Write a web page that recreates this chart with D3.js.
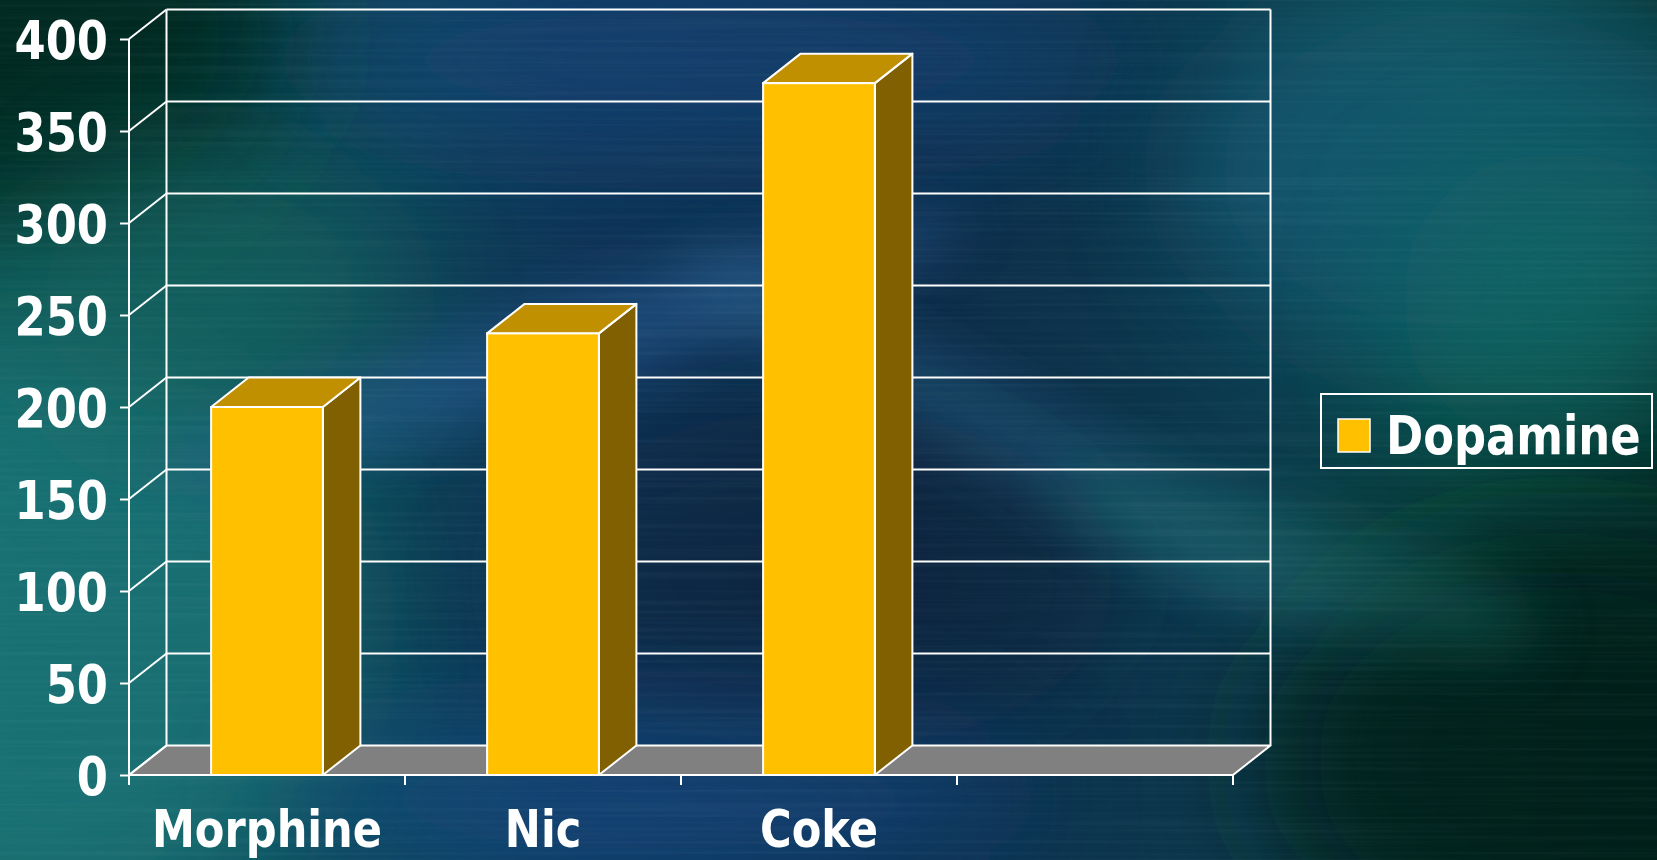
<!DOCTYPE html>
<html>
<head>
<meta charset="utf-8">
<script src="https://cdn.jsdelivr.net/npm/d3@7"></script>
<style>
  html, body { margin: 0; padding: 0; background: #0c2c44; overflow: hidden; }
  svg { display: block; }
  text { font-family: "DejaVu Sans Condensed", "DejaVu Sans", sans-serif; font-stretch: condensed; font-weight: bold; fill: #ffffff; }
</style>
</head>
<body>
<svg id="chart" width="1657" height="860"></svg>
<script>
// ---- data ----
const categories = ["Morphine", "Nic", "Coke", ""];
const seriesName = "Dopamine";
const dopamine = [200, 240, 376, null];
const yTicks = [0, 50, 100, 150, 200, 250, 300, 350, 400];

// ---- layout ----
const W = 1657, H = 860;
const svg = d3.select("#chart");
const DX = 37.5, DY = -29.5;           // 3D depth offset
const x = d3.scaleBand().domain(categories).range([129, 1233]).padding(0);
const y = d3.scaleLinear().domain([0, 400]).range([775, 39]);
const barW = x.bandwidth() * 0.405;
const FS = 53, SX = 0.94;              // font size and horizontal squeeze

// ---- background ----
const defs = svg.append("defs");
const lg = defs.append("linearGradient").attr("id", "bgBase").attr("x1", 0).attr("x2", 1).attr("y1", 0).attr("y2", 0);
[["0%", "#0f5d5e"], ["18%", "#0d4a57"], ["35%", "#0e3356"], ["55%", "#0d2c4a"], ["75%", "#0c3a4e"], ["88%", "#0a4642"], ["100%", "#05302b"]]
  .forEach(([o, c]) => lg.append("stop").attr("offset", o).attr("stop-color", c));
defs.append("filter").attr("id", "blur60").attr("x", "-50%").attr("y", "-50%").attr("width", "200%").attr("height", "200%")
  .append("feGaussianBlur").attr("stdDeviation", 60);
defs.append("filter").attr("id", "blur30").attr("x", "-50%").attr("y", "-50%").attr("width", "200%").attr("height", "200%")
  .append("feGaussianBlur").attr("stdDeviation", 30);
const streak = defs.append("filter").attr("id", "streaks").attr("x", 0).attr("y", 0).attr("width", "100%").attr("height", "100%");
streak.append("feTurbulence").attr("type", "fractalNoise").attr("baseFrequency", "0.002 0.25").attr("numOctaves", 2).attr("seed", 3).attr("result", "n");
streak.append("feColorMatrix").attr("type", "matrix")
  .attr("values", "0 0 0 0 0.6  0 0 0 0 0.85  0 0 0 0 0.9  0 0 0 1.2 -0.5");

const bg = svg.append("g").attr("class", "background");
bg.append("rect").attr("width", W).attr("height", H).attr("fill", "url(#bgBase)");
const blobs = [
  { cx: 40, cy: 40, rx: 260, ry: 200, rot: 0, c: "#05261f", o: 0.9, f: "blur60" },
  { cx: 60, cy: 640, rx: 280, ry: 300, rot: 0, c: "#1a7678", o: 0.8, f: "blur60" },
  { cx: 200, cy: 300, rx: 200, ry: 160, rot: 0, c: "#136660", o: 0.6, f: "blur60" },
  { cx: 700, cy: 60, rx: 420, ry: 90, rot: 0, c: "#17467a", o: 0.7, f: "blur60" },
  { cx: 560, cy: 350, rx: 420, ry: 45, rot: -18, c: "#2a5f98", o: 0.55, f: "blur30" },
  { cx: 1050, cy: 460, rx: 420, ry: 40, rot: 28, c: "#2f6f96", o: 0.45, f: "blur30" },
  { cx: 820, cy: 580, rx: 300, ry: 170, rot: 0, c: "#081d33", o: 0.4, f: "blur60" },
  { cx: 650, cy: 800, rx: 380, ry: 90, rot: 0, c: "#17508a", o: 0.6, f: "blur60" },
  { cx: 1480, cy: 170, rx: 300, ry: 200, rot: 0, c: "#13607a", o: 0.7, f: "blur60" },
  { cx: 1560, cy: 300, rx: 160, ry: 150, rot: 0, c: "#0b6b62", o: 0.6, f: "blur60" },
  { cx: 1560, cy: 760, rx: 300, ry: 230, rot: 0, c: "#021a15", o: 0.85, f: "blur60" },
  { cx: 1300, cy: 560, rx: 250, ry: 50, rot: 18, c: "#13625e", o: 0.5, f: "blur30" }
];
bg.selectAll("ellipse").data(blobs).join("ellipse")
  .attr("cx", d => d.cx).attr("cy", d => d.cy).attr("rx", d => d.rx).attr("ry", d => d.ry)
  .attr("transform", d => `rotate(${d.rot},${d.cx},${d.cy})`)
  .attr("fill", d => d.c).attr("opacity", d => d.o).attr("filter", d => `url(#${d.f})`);
bg.append("rect").attr("width", W).attr("height", H).attr("filter", "url(#streaks)").attr("opacity", 0.08);

// ---- 3D frame ----
const g = svg.append("g");
const stroke = "#ffffff";
const yBack = v => y(v) + DY;
const x0 = x.range()[0], x1 = x.range()[1];

// floor
g.append("polygon")
  .attr("points", [[x0, y(0)], [x1, y(0)], [x1 + DX, yBack(0)], [x0 + DX, yBack(0)]].map(p => p.join(",")).join(" "))
  .attr("fill", "#808080").attr("stroke", stroke).attr("stroke-width", 2).attr("stroke-linejoin", "round");

// back wall gridlines (including top edge)
g.selectAll("line.grid").data(yTicks.filter(v => v > 0)).join("line").attr("class", "grid")
  .attr("x1", x0 + DX).attr("x2", x1 + DX).attr("y1", d => yBack(d)).attr("y2", d => yBack(d))
  .attr("stroke", stroke).attr("stroke-width", 2);
// back wall verticals
[x0 + DX, x1 + DX].forEach(xx => g.append("line")
  .attr("x1", xx).attr("x2", xx).attr("y1", yBack(400)).attr("y2", yBack(0))
  .attr("stroke", stroke).attr("stroke-width", 2));
// side wall diagonals
g.selectAll("line.diag").data(yTicks).join("line").attr("class", "diag")
  .attr("x1", x0).attr("y1", d => y(d)).attr("x2", x0 + DX).attr("y2", d => yBack(d))
  .attr("stroke", stroke).attr("stroke-width", 2);

// y axis
const yAxis = d3.axisLeft(y).tickValues(yTicks).tickSize(9).tickPadding(12).tickFormat(d3.format("d"));
const ya = g.append("g").attr("transform", `translate(${x0},0)`).call(yAxis);
ya.select(".domain").attr("stroke", stroke).attr("stroke-width", 2).attr("d", `M0,${y(400)}V${y(0) + 10}`);
ya.selectAll(".tick line").attr("stroke", stroke).attr("stroke-width", 2);
ya.selectAll(".tick text").attr("fill", "#fff").attr("font-size", FS).attr("dy", "0.37em")
  .attr("font-family", null).attr("x", -21 / SX).attr("transform", `scale(${SX},1)`);

// x axis (ticks at category boundaries)
const bounds = categories.map(c => x(c)).concat([x1]);
g.append("line").attr("x1", x0).attr("x2", x1).attr("y1", y(0)).attr("y2", y(0)).attr("stroke", stroke).attr("stroke-width", 2);
g.selectAll("line.xtick").data(bounds).join("line").attr("class", "xtick")
  .attr("x1", d => d).attr("x2", d => d).attr("y1", y(0)).attr("y2", y(0) + 10)
  .attr("stroke", stroke).attr("stroke-width", 2);
g.selectAll("text.xlab").data(categories).join("text").attr("class", "xlab")
  .attr("transform", d => `translate(${x(d) + x.bandwidth() / 2},847) scale(${SX},1)`)
  .attr("text-anchor", "middle").attr("font-size", 51).text(d => d);

// ---- bars ----
const barData = categories.map((c, i) => ({ c, v: dopamine[i] })).filter(d => d.v != null);
const bars = g.selectAll("g.bar").data(barData).join("g").attr("class", "bar");
const pts = a => a.map(p => p.join(",")).join(" ");
bars.each(function (d) {
  const gb = d3.select(this);
  const cx = x(d.c) + x.bandwidth() / 2;
  const l = cx - barW / 2, r = cx + barW / 2, t = y(d.v), b = y(0);
  gb.append("polygon").attr("points", pts([[r, t], [r + DX, t + DY], [r + DX, b + DY], [r, b]]))
    .attr("fill", "#806000").attr("stroke", stroke).attr("stroke-width", 2).attr("stroke-linejoin", "round");
  gb.append("polygon").attr("points", pts([[l, t], [l + DX, t + DY], [r + DX, t + DY], [r, t]]))
    .attr("fill", "#C09000").attr("stroke", stroke).attr("stroke-width", 2).attr("stroke-linejoin", "round");
  gb.append("rect").attr("x", l).attr("y", t).attr("width", barW).attr("height", b - t)
    .attr("fill", "#FFC000").attr("stroke", stroke).attr("stroke-width", 2);
});

// ---- legend ----
const leg = svg.append("g").attr("transform", "translate(1321,394)");
leg.append("rect").attr("width", 331).attr("height", 74).attr("fill", "none").attr("stroke", stroke).attr("stroke-width", 2);
leg.append("rect").attr("x", 17).attr("y", 25).attr("width", 32).attr("height", 33)
  .attr("fill", "#FFC000").attr("stroke", stroke).attr("stroke-width", 1.5);
leg.append("text").attr("transform", `translate(65,60) scale(${SX},1)`).attr("font-size", FS).text(seriesName);
</script>
</body>
</html>
